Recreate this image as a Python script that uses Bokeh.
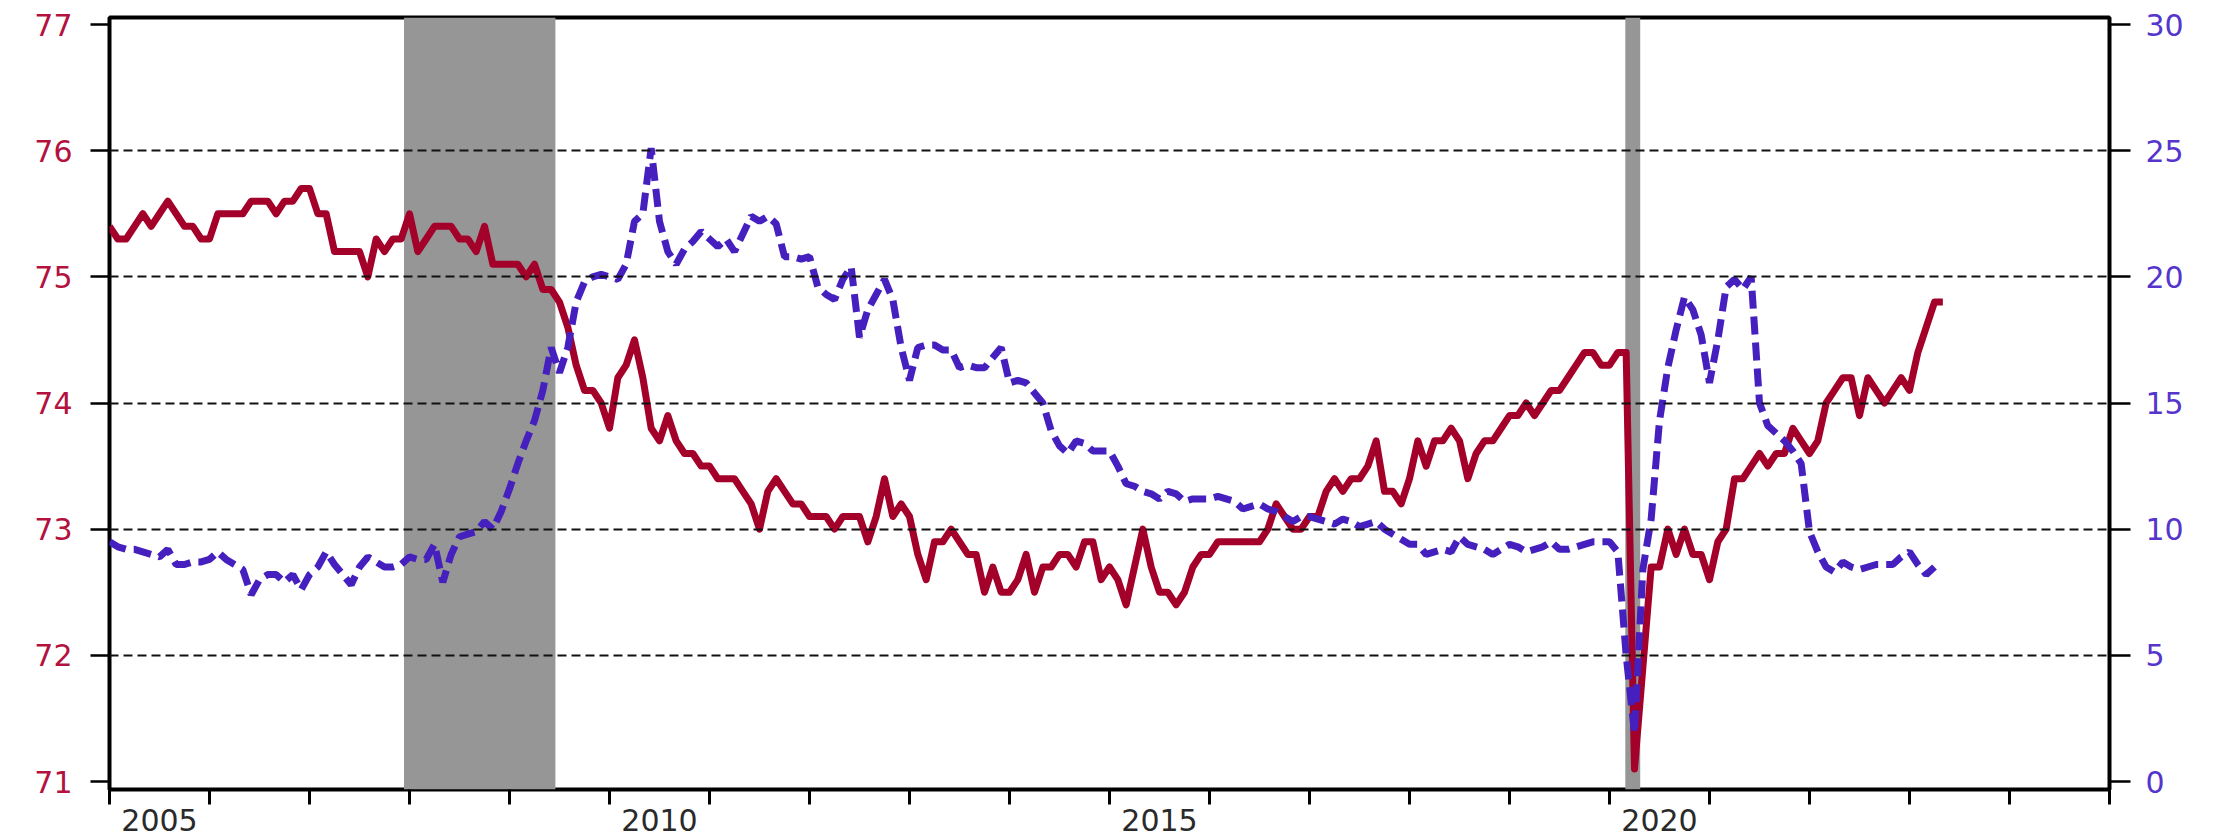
from bokeh.plotting import figure
from bokeh.models import Range1d, LinearAxis, FixedTicker, BoxAnnotation
from bokeh.embed import file_html
from bokeh.resources import INLINE

# ---------------- data (monthly, starting Jan 2005) ----------------
start_year = 2005
red_series = [
    75.4, 75.3, 75.3, 75.4, 75.5, 75.4, 75.5, 75.6, 75.5, 75.4,
    75.4, 75.3, 75.3, 75.5, 75.5, 75.5, 75.5, 75.6, 75.6, 75.6,
    75.5, 75.6, 75.6, 75.7, 75.7, 75.5, 75.5, 75.2, 75.2, 75.2,
    75.2, 75.0, 75.3, 75.2, 75.3, 75.3, 75.5, 75.2, 75.3, 75.4,
    75.4, 75.4, 75.3, 75.3, 75.2, 75.4, 75.1, 75.1, 75.1, 75.1,
    75.0, 75.1, 74.9, 74.9, 74.8, 74.6, 74.3, 74.1, 74.1, 74.0,
    73.8, 74.2, 74.3, 74.5, 74.2, 73.8, 73.7, 73.9, 73.7, 73.6,
    73.6, 73.5, 73.5, 73.4, 73.4, 73.4, 73.3, 73.2, 73.0, 73.3,
    73.4, 73.3, 73.2, 73.2, 73.1, 73.1, 73.1, 73.0, 73.1, 73.1,
    73.1, 72.9, 73.1, 73.4, 73.1, 73.2, 73.1, 72.8, 72.6, 72.9,
    72.9, 73.0, 72.9, 72.8, 72.8, 72.5, 72.7, 72.5, 72.5, 72.6,
    72.8, 72.5, 72.7, 72.7, 72.8, 72.8, 72.7, 72.9, 72.9, 72.6,
    72.7, 72.6, 72.4, 72.7, 73.0, 72.7, 72.5, 72.5, 72.4, 72.5,
    72.7, 72.8, 72.8, 72.9, 72.9, 72.9, 72.9, 72.9, 72.9, 73.0,
    73.2, 73.1, 73.0, 73.0, 73.1, 73.1, 73.3, 73.4, 73.3, 73.4,
    73.4, 73.5, 73.7, 73.3, 73.3, 73.2, 73.4, 73.7, 73.5, 73.7,
    73.7, 73.8, 73.7, 73.4, 73.6, 73.7, 73.7, 73.8, 73.9, 73.9,
    74.0, 73.9, 74.0, 74.1, 74.1, 74.2, 74.3, 74.4, 74.4, 74.3,
    74.3, 74.4, 74.4, 71.1, 71.9, 72.7, 72.7, 73.0, 72.8, 73.0,
    72.8, 72.8, 72.6, 72.9, 73.0, 73.4, 73.4, 73.5, 73.6, 73.5,
    73.6, 73.6, 73.8, 73.7, 73.6, 73.7, 74.0, 74.1, 74.2, 74.2,
    73.9, 74.2, 74.1, 74.0, 74.1, 74.2, 74.1, 74.4, 74.6, 74.8, 74.8,
]
purple_series = [
    9.5, 9.3, 9.2, 9.2, 9.1, 9.0, 8.9, 9.2, 8.6, 8.6,
    8.7, 8.7, 8.8, 9.1, 8.8, 8.6, 8.4, 7.4, 8.0, 8.2,
    8.2, 7.9, 8.2, 7.6, 8.2, 8.5, 9.1, 8.6, 8.2, 7.8,
    8.5, 8.9, 8.7, 8.5, 8.5, 8.6, 8.9, 8.8, 8.8, 9.4,
    7.9, 9.0, 9.7, 9.8, 9.9, 10.3, 10.0, 10.7, 11.6, 12.6,
    13.5, 14.3, 15.5, 17.2, 16.2, 17.2, 19.0, 19.8, 20.0, 20.1,
    20.0, 19.9, 20.5, 22.2, 22.5, 25.1, 22.2, 21.0, 20.5, 21.1,
    21.4, 21.8, 21.5, 21.2, 21.5, 21.0, 21.7, 22.4, 22.2, 22.4,
    22.1, 20.8, 20.8, 20.7, 20.8, 19.6, 19.3, 19.1, 19.9, 20.4,
    17.6, 18.7, 19.3, 19.9, 19.1, 17.2, 15.9, 17.2, 17.3, 17.3,
    17.1, 17.1, 16.4, 16.5, 16.4, 16.4, 16.8, 17.2, 15.8, 15.9,
    15.8, 15.4, 15.0, 13.9, 13.3, 13.0, 13.5, 13.4, 13.1, 13.1,
    13.1, 12.5, 11.8, 11.7, 11.5, 11.4, 11.2, 11.5, 11.4, 11.1,
    11.2, 11.2, 11.2, 11.3, 11.2, 11.1, 10.8, 10.9, 11.0, 10.8,
    10.7, 10.5, 10.3, 10.5, 10.5, 10.4, 10.3, 10.2, 10.4, 10.3,
    10.1, 10.2, 10.3, 10.0, 9.8, 9.6, 9.4, 9.4, 9.0, 9.1,
    9.2, 9.1, 9.7, 9.4, 9.3, 9.2, 9.0, 9.2, 9.4, 9.3,
    9.1, 9.2, 9.3, 9.5, 9.2, 9.2, 9.3, 9.4, 9.5, 9.5,
    9.5, 9.1, 5.0, 1.9, 8.4, 10.4, 14.3, 16.4, 17.9, 19.2,
    18.7, 17.7, 15.8, 17.5, 19.6, 19.9, 19.5, 20.0, 15.0, 14.1,
    13.8, 13.5, 13.1, 12.6, 9.9, 9.1, 8.5, 8.3, 8.7, 8.5,
    8.4, 8.5, 8.6, 8.6, 8.6, 8.9, 9.1, 8.6, 8.2, 8.5,
]
recession_start = [2007.945, 2020.158]
recession_end = [2009.459, 2020.307]
year_ticks = list(range(2005, 2026))
year_labels = ["2005", "2010", "2015", "2020"]
left_ticks = [71, 72, 73, 74, 75, 76, 77]
right_ticks = [0, 5, 10, 15, 20, 25, 30]
grid_levels = [72, 73, 74, 75, 76]

red_x = [start_year + i / 12 for i in range(len(red_series))]
purple_x = [start_year + i / 12 for i in range(len(purple_series))]

# ---------------- styling ----------------
RED = "#A3002A"
PURPLE = "#4620BE"
RED_LABEL = "#B3123F"
PURPLE_LABEL = "#5535CC"
FONT = "DejaVu Sans"
FS = "30px"

W, H = 2222, 839
FRAME_L, FRAME_R, FRAME_T, FRAME_B = 109, 2109, 17, 789
Y0, Y1 = 70.9366, 77.0555

p = figure(width=W, height=H, output_backend="svg", toolbar_location=None,
           x_range=Range1d(2005, 2025), y_range=Range1d(Y0, Y1),
           min_border_left=FRAME_L, min_border_right=W - FRAME_R,
           min_border_top=FRAME_T, min_border_bottom=H - FRAME_B)
p.extra_y_ranges = {"right": Range1d((Y0 - 71) * 5, (Y1 - 71) * 5)}

p.outline_line_color = "black"
p.outline_line_width = 4
p.background_fill_color = "white"
p.border_fill_color = "white"

p.xgrid.visible = False
p.ygrid.ticker = FixedTicker(ticks=grid_levels)
p.ygrid.grid_line_color = "#111111"
p.ygrid.grid_line_width = 1.8
p.ygrid.grid_line_dash = "9 5"
p.ygrid.level = "glyph"

for s, e in zip(recession_start, recession_end):
    p.add_layout(BoxAnnotation(left=s, right=e, fill_color="#969696", fill_alpha=1.0,
                               line_color=None, level="underlay"))

p.line(red_x, red_series, line_color=RED, line_width=7, line_join="round")
p.line(purple_x, purple_series, line_color=PURPLE, line_width=7, line_dash="18 8",
       y_range_name="right")

# bottom axis: year ticks (minor) and labels centred on each year (major)
label_pos = [int(s) + 0.5 for s in year_labels]
xa = p.xaxis[0]
xa.ticker = FixedTicker(ticks=label_pos, minor_ticks=year_ticks)
xa.major_label_overrides = {pos: lab for pos, lab in zip(label_pos, year_labels)}
xa.axis_line_color = None
xa.major_tick_out = 0
xa.major_tick_in = 0
xa.major_tick_line_color = None
xa.minor_tick_out = 15
xa.minor_tick_in = 0
xa.minor_tick_line_width = 3
xa.minor_tick_line_color = "black"
xa.major_label_standoff = 4
xa.major_label_text_font = FONT
xa.major_label_text_font_size = FS
xa.major_label_text_color = "#2a2a2a"

# left axis
ya = p.yaxis[0]
ya.ticker = FixedTicker(ticks=left_ticks)
ya.axis_line_color = None
ya.major_tick_out = 19
ya.major_tick_in = 0
ya.major_tick_line_width = 2.5
ya.minor_tick_line_color = None
ya.major_label_standoff = 18
ya.major_label_text_font = FONT
ya.major_label_text_font_size = FS
ya.major_label_text_color = RED_LABEL

# right axis
ra = LinearAxis(y_range_name="right", ticker=FixedTicker(ticks=right_ticks))
ra.axis_line_color = None
ra.major_tick_out = 21
ra.major_tick_in = 0
ra.major_tick_line_width = 2.5
ra.minor_tick_line_color = None
ra.major_label_standoff = 15
ra.major_label_text_font = FONT
ra.major_label_text_font_size = FS
ra.major_label_text_color = PURPLE_LABEL
p.add_layout(ra, "right")

open("out.html", "w").write(file_html(p, INLINE))
